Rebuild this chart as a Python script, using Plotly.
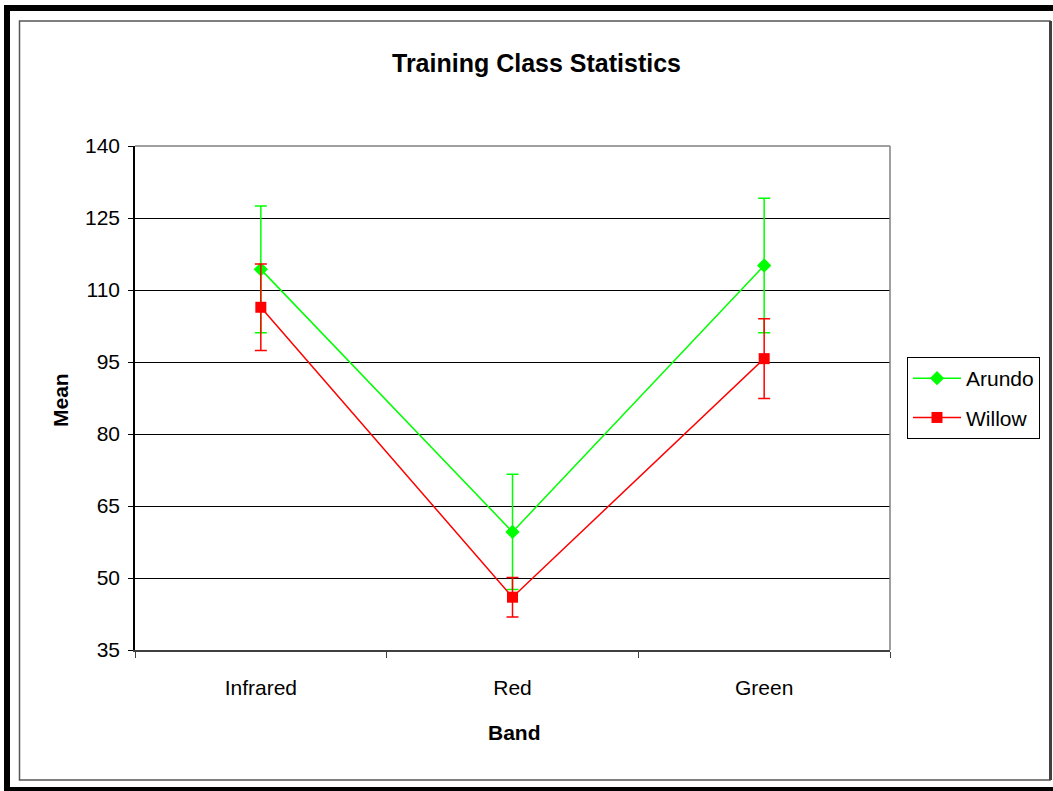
import plotly.graph_objects as go

bands = ["Infrared", "Red", "Green"]
arundo_mean = [114.3, 59.6, 115.1]
arundo_err = [13.2, 12.0, 14.0]
willow_mean = [106.4, 46.0, 95.7]
willow_err = [9.0, 4.1, 8.3]
y_ticks = [35, 50, 65, 80, 95, 110, 125, 140]

W, H = 1053, 791
L, R, T, B = 135, 890, 146, 650

def px(x):
    return (x - L) / (R - L)

def py(y):
    return (B - y) / (B - T)

FONT = "Liberation Sans, Arial, sans-serif"

fig = go.Figure()
fig.add_trace(go.Scatter(
    x=bands, y=arundo_mean, name="Arundo", mode="lines+markers", legendgroup="a",
    line=dict(color="#00FF00", width=1.5),
    marker=dict(symbol="diamond", size=11, color="#00FF00"),
    error_y=dict(type="data", array=arundo_err, visible=True, color="#00FF00", thickness=1.5, width=6),
))
fig.add_trace(go.Scatter(
    x=bands, y=willow_mean, name="Willow", mode="lines+markers", legendgroup="w",
    line=dict(color="#FF0000", width=1.5),
    marker=dict(symbol="square", size=11, color="#FF0000"),
    error_y=dict(type="data", array=willow_err, visible=True, color="#FF0000", thickness=1.5, width=6),
))

shapes = [
    dict(type="rect", xref="paper", yref="paper", x0=px(7), x1=px(1056), y0=py(790), y1=py(8),
         line=dict(color="black", width=6), layer="above"),
    dict(type="rect", xref="paper", yref="paper", x0=px(19.5), x1=px(1050), y0=py(780), y1=py(21),
         line=dict(color="#555555", width=1.5), layer="above"),
    dict(type="line", xref="paper", yref="paper", x0=px(1050.5), x1=px(1050.5), y0=py(780), y1=py(21),
         line=dict(color="#404040", width=3), layer="above"),
    dict(type="line", xref="paper", yref="paper", x0=0, x1=1, y0=1, y1=1,
         line=dict(color="#808080", width=1.5), layer="above"),
    dict(type="line", xref="paper", yref="paper", x0=1, x1=1, y0=0, y1=1,
         line=dict(color="#808080", width=1.5), layer="above"),
]

annotations = [
    dict(text="<b>Training Class Statistics</b>", xref="paper", yref="paper",
         x=px(536), y=py(63), xanchor="center", yanchor="middle", showarrow=False,
         font=dict(family=FONT, size=25, color="black")),
    dict(text="<b>Mean</b>", xref="paper", yref="paper", textangle=-90,
         x=px(60), y=py(400), xanchor="center", yanchor="middle", showarrow=False,
         font=dict(family=FONT, size=21, color="black")),
    dict(text="<b>Band</b>", xref="paper", yref="paper",
         x=px(514), y=py(732), xanchor="center", yanchor="middle", showarrow=False,
         font=dict(family=FONT, size=21, color="black")),
]

fig.update_layout(
    width=W, height=H,
    margin=dict(l=L, r=W - R, t=T, b=H - B, pad=0),
    paper_bgcolor="white", plot_bgcolor="white",
    font=dict(family=FONT, size=21, color="black"),
    showlegend=True,
    legend=dict(x=px(907), y=py(357), xanchor="left", yanchor="top",
                bordercolor="black", borderwidth=1, bgcolor="white",
                font=dict(family=FONT, size=21, color="black"),
                itemwidth=48, tracegroupgap=9),
    shapes=shapes, annotations=annotations,
    xaxis=dict(type="category", categoryorder="array", categoryarray=bands,
               range=[-0.5, 2.5], showgrid=False, showline=True, linecolor="#404040", linewidth=1.5,
               ticks="outside", tickson="boundaries", ticklen=6, tickcolor="#404040",
               ticklabelstandoff=18,
               tickfont=dict(family=FONT, size=21), zeroline=False),
    yaxis=dict(range=[35, 140], tickvals=y_ticks, showgrid=True, gridcolor="black", gridwidth=1,
               showline=True, linecolor="black", linewidth=1.5,
               ticks="outside", ticklen=5, tickcolor="black", ticklabelstandoff=4,
               tickfont=dict(family=FONT, size=21), zeroline=False),
)

fig.write_html("out.html", config={"displayModeBar": False},
               post_script="document.body.style.margin='0';")
